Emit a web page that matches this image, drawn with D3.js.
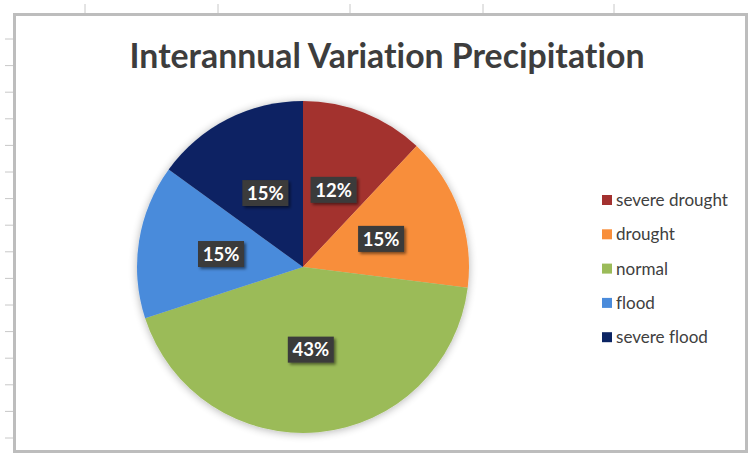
<!DOCTYPE html>
<html><head><meta charset="utf-8">
<script src="https://cdn.jsdelivr.net/npm/d3@7"></script>
<style>body{margin:0;background:#fff;}svg{display:block;}text{font-variant-ligatures:none;}</style>
</head><body>
<svg id="c" width="752" height="459"></svg>
<script>
const categories = ["severe drought","drought","normal","flood","severe flood"];
const values = [12, 15, 43, 15, 15];
const colors = ["#A3312F","#F88E3A","#9BBB59","#4A8BDB","#0B2463"];
const title = "Interannual Variation Precipitation";

const svg = d3.select("#c");
const defs = svg.append("defs");
const f = defs.append("filter").attr("id","sh").attr("x","-20%").attr("y","-20%").attr("width","140%").attr("height","140%");
f.append("feGaussianBlur").attr("in","SourceAlpha").attr("stdDeviation",4);
f.append("feOffset").attr("dx",0).attr("dy",1).attr("result","b");
f.append("feComponentTransfer").append("feFuncA").attr("type","linear").attr("slope",0.3);
const m = f.append("feMerge"); m.append("feMergeNode"); m.append("feMergeNode").attr("in","SourceGraphic");
const f2 = defs.append("filter").attr("id","sh2").attr("x","-30%").attr("y","-30%").attr("width","160%").attr("height","160%");
f2.append("feGaussianBlur").attr("in","SourceAlpha").attr("stdDeviation",1.5);
f2.append("feOffset").attr("dx",1.5).attr("dy",1.5);
f2.append("feComponentTransfer").append("feFuncA").attr("type","linear").attr("slope",0.5);
const m2 = f2.append("feMerge"); m2.append("feMergeNode"); m2.append("feMergeNode").attr("in","SourceGraphic");

// spreadsheet grid marks outside frame
const gridX = [85,218,350,483,614];
svg.selectAll("line.gx").data(gridX).enter().append("line")
  .attr("x1",d=>d).attr("x2",d=>d).attr("y1",4).attr("y2",13)
  .attr("stroke","#c8c8c8").attr("stroke-width",1);
const gridY = d3.range(39, 450, 26.6);
svg.selectAll("line.gy").data(gridY).enter().append("line")
  .attr("x1",5).attr("x2",13).attr("y1",d=>d).attr("y2",d=>d)
  .attr("stroke","#c8c8c8").attr("stroke-width",1);

// frame
svg.append("rect").attr("x",14.5).attr("y",14.5).attr("width",732).attr("height",437)
  .attr("fill","#fff").attr("stroke","#bdbdbd").attr("stroke-width",3);

// title
const t = svg.append("text").attr("x",387).attr("y",68).attr("text-anchor","middle")
  .attr("font-family","Lato, 'Open Sans', sans-serif").attr("font-weight","bold")
  .attr("font-size",36).attr("fill","#3d3d3d").text(title);
const tw = t.node().getComputedTextLength();
t.attr("font-size", 36*515/tw);

// pie
const cx = 303, cy = 267, R = 166;
const pie = d3.pie().sort(null).value(d=>d.v);
const arcs = pie(categories.map((c,i)=>({c, v:values[i], col:colors[i]})));
const arc = d3.arc().innerRadius(0).outerRadius(R);
const g = svg.append("g").attr("transform",`translate(${cx},${cy})`);
g.append("g").attr("filter","url(#sh)").selectAll("path").data(arcs).enter().append("path")
  .attr("d",arc).attr("fill",d=>d.data.col);

// labels
const total = d3.sum(values);
const lab = g.selectAll("g.lab").data(arcs).enter().append("g")
  .attr("transform",d=>{const [x,y]=arc.centroid(d);return `translate(${x},${y})`;});
lab.append("rect").attr("x",-23).attr("y",-13).attr("width",46).attr("height",26)
  .attr("fill","#3a3a3a").attr("filter","url(#sh2)");
lab.append("text").attr("text-anchor","middle").attr("dy","0.36em")
  .attr("font-family","Lato, 'Open Sans', sans-serif").attr("font-weight","bold")
  .attr("font-size",18.5).attr("fill","#fff")
  .text(d=>Math.round(d.data.v/total*100)+"%");

// legend
const leg = svg.append("g");
const rows = leg.selectAll("g").data(categories).enter().append("g")
  .attr("transform",(d,i)=>`translate(602,${200+i*34.3})`);
rows.append("rect").attr("x",0).attr("y",-5).attr("width",10).attr("height",10)
  .attr("fill",(d,i)=>colors[i]);
const lt = rows.append("text").attr("x",14).attr("dy","0.35em")
  .attr("font-family","Lato, 'Open Sans', sans-serif").attr("font-size",16).attr("fill","#404040")
  .text(d=>d);
const w0 = lt.nodes()[0].getComputedTextLength();
lt.attr("font-size", 16*112/w0);
</script>
</body></html>
